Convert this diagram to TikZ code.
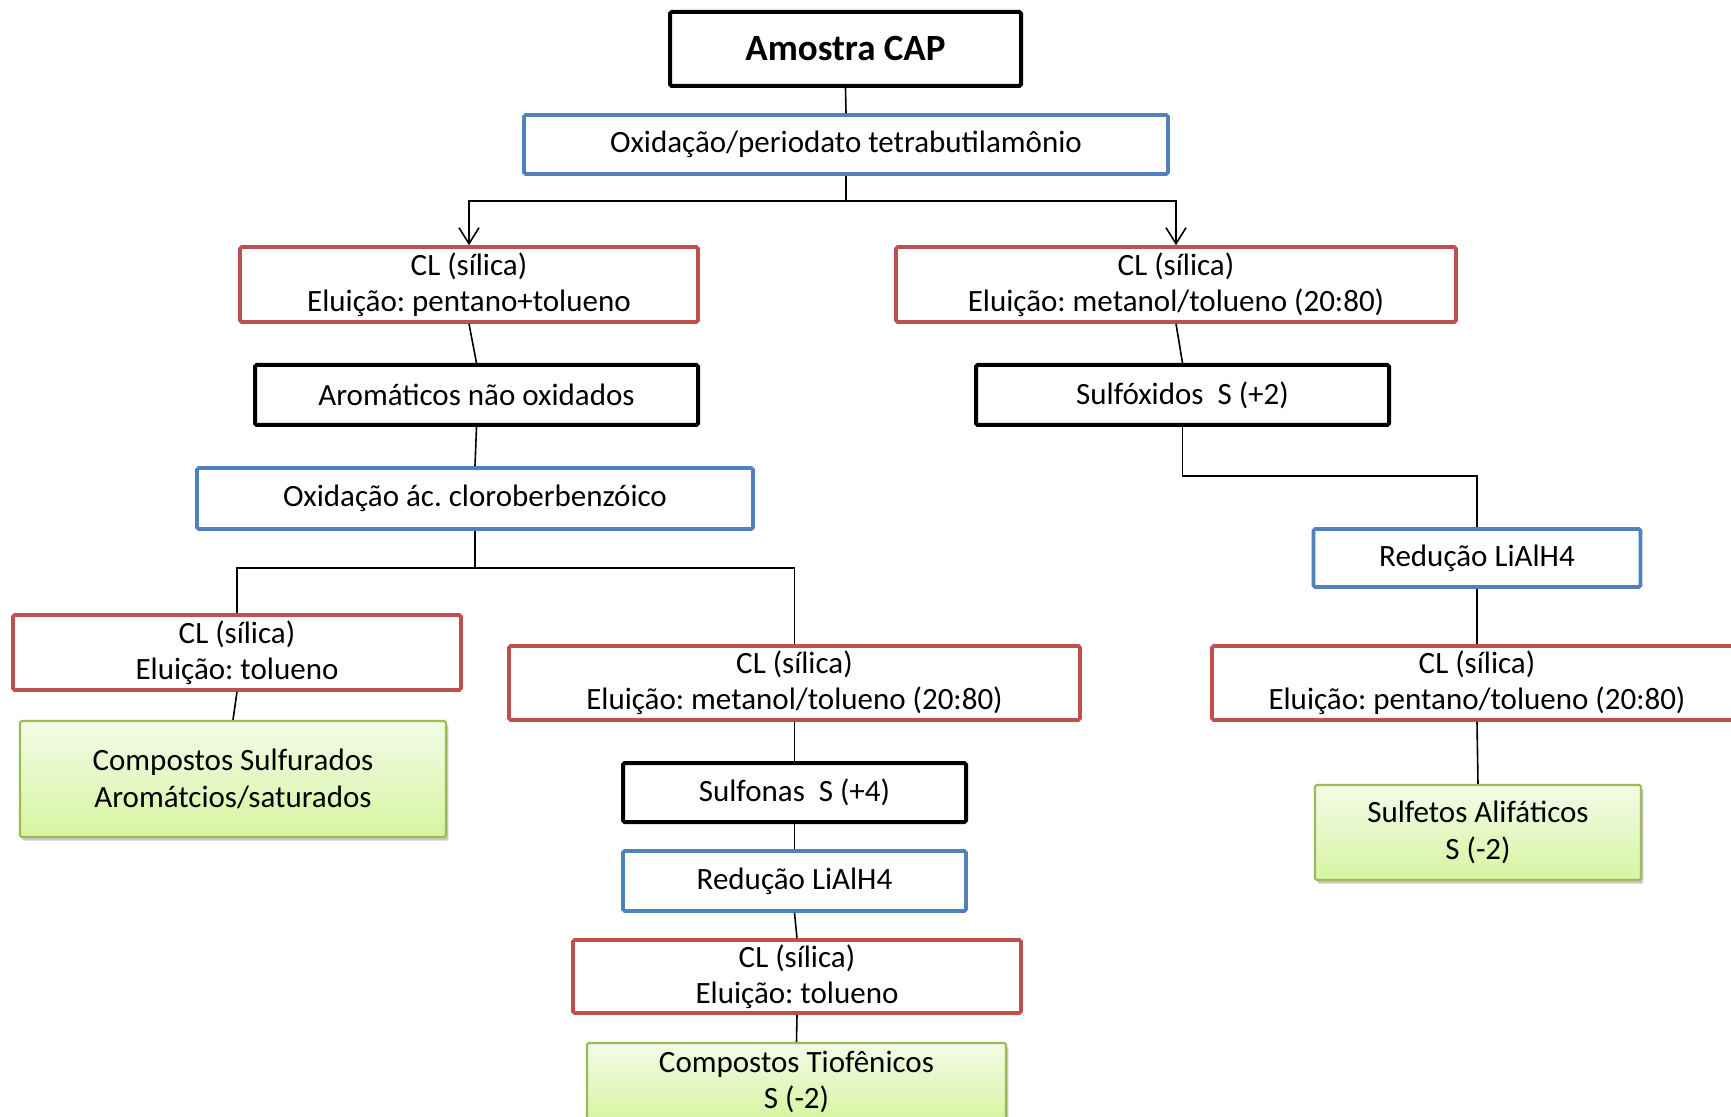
\documentclass[tikz,border=0pt]{standalone}
\usepackage{fontspec}
\setmainfont{Carlito}
\frenchspacing
\usetikzlibrary{arrows.meta,shadows}
\definecolor{boxblue}{RGB}{79,129,189}
\definecolor{boxred}{RGB}{192,80,77}
\definecolor{boxgreen}{RGB}{155,187,89}
\definecolor{greentop}{RGB}{243,251,232}
\definecolor{greenbot}{RGB}{214,245,160}
\tikzset{
  base/.style={rectangle, align=center, inner sep=0pt, fill=white,
    font=\fontsize{15.5}{18.2}\selectfont, rounded corners=0.8pt},
  blackbox/.style={base, draw=black, line width=2pt},
  bluebox/.style={base, draw=boxblue, line width=1.8pt},
  redbox/.style={base, draw=boxred, line width=1.8pt},
  resultbox/.style={base, draw=boxgreen, line width=1.1pt,
    top color=greentop, bottom color=greenbot,
    drop shadow={shadow xshift=1.2pt, shadow yshift=-1.8pt, opacity=0.35, fill=black!60}},
  link/.style={line width=0.8pt, black},
  arrowlink/.style={link, -{Straight Barb[length=8pt,width=10pt,line width=0.8pt]}},
}
\begin{document}
\begin{tikzpicture}[x=0.5pt,y=-0.5pt]
\clip (0,0) rectangle (1731,1117);
\fill[white] (0,0) rectangle (1731,1117);

% main trunk
\node[blackbox, minimum width=175.5pt, minimum height=37pt,
  font=\fontsize{18.5}{22}\selectfont\bfseries] (cap) at (845.5,49) {Amostra CAP};
\node[bluebox, minimum width=322pt, minimum height=29.5pt] (ox1) at (846,144.5) {Oxidação/periodato tetrabutilamônio};

% first separation
\node[redbox, minimum width=229pt, minimum height=37.5pt] (cl1) at (469,284.5) {CL (sílica)\\Eluição: pentano+tolueno};
\node[redbox, minimum width=280pt, minimum height=37.5pt] (cl2) at (1176,284.5) {CL (sílica)\\Eluição: metanol/tolueno (20:80)};
\node[blackbox, minimum width=221.5pt, minimum height=30pt] (arom) at (476.5,395) {Aromáticos não oxidados};
\node[blackbox, minimum width=206.5pt, minimum height=30pt] (sfx) at (1182.5,395) {Sulfóxidos\ \ S (+2)};

% left branch
\node[bluebox, minimum width=278pt, minimum height=30.5pt] (ox2) at (475,498.5) {Oxidação ác. cloroberbenzóico};
\node[redbox, minimum width=224pt, minimum height=37.5pt] (cl3) at (237,652.5) {CL (sílica)\\Eluição: tolueno};
\node[resultbox, minimum width=213pt, minimum height=58pt] (sulf) at (233,779) {Compostos Sulfurados\\Aromátcios/saturados};
\node[redbox, minimum width=285.5pt, minimum height=37pt] (cl4) at (794.5,683) {CL (sílica)\\Eluição: metanol/tolueno (20:80)};
\node[blackbox, minimum width=171.5pt, minimum height=29.5pt] (sfn) at (794.5,792.5) {Sulfonas\ \ S (+4)};
\node[bluebox, minimum width=171.5pt, minimum height=30pt] (red1) at (794.5,881) {Redução LiAlH4};
\node[redbox, minimum width=224pt, minimum height=36.5pt] (cl5) at (797,976.5) {CL (sílica)\\Eluição: tolueno};
\node[resultbox, minimum width=209.5pt, minimum height=39pt] (tio) at (796.5,1082) {Compostos Tiofênicos\\S (-2)};

% right branch
\node[bluebox, minimum width=163.5pt, minimum height=29pt] (red2) at (1477,558) {Redução LiAlH4};
\node[redbox, minimum width=265pt, minimum height=37pt] (cl6) at (1477,683) {CL (sílica)\\Eluição: pentano/tolueno (20:80)};
\node[resultbox, minimum width=163pt, minimum height=47.5pt] (alif) at (1478,832.5) {Sulfetos Alifáticos\\S (-2)};

% connectors
\coordinate (f1) at (846,201);
\coordinate (f2) at (475,568);
\coordinate (f3) at (1182.5,476);
\draw[link] (cap.south) -- (ox1.north);
\draw[link] (ox1.south) -- (f1);
\draw[arrowlink] (f1) -| (cl1.north);
\draw[arrowlink] (f1) -| (cl2.north);
\draw[link] (cl1.south) -- (arom.north);
\draw[link] (cl2.south) -- (sfx.north);
\draw[link] (arom.south) -- (ox2.north);
\draw[link] (ox2.south) -- (f2);
\draw[link] (cl3.north) |- (f2) -| (cl4.north);
\draw[link] (cl3.south) -- (sulf.north);
\draw[link] (cl4.south) -- (sfn.north);
\draw[link] (sfn.south) -- (red1.north);
\draw[link] (red1.south) -- (cl5.north);
\draw[link] (cl5.south) -- (tio.north);
\draw[link] (sfx.south) -- (f3) -| (red2.north);
\draw[link] (red2.south) -- (cl6.north);
\draw[link] (cl6.south) -- (alif.north);
\end{tikzpicture}
\end{document}
